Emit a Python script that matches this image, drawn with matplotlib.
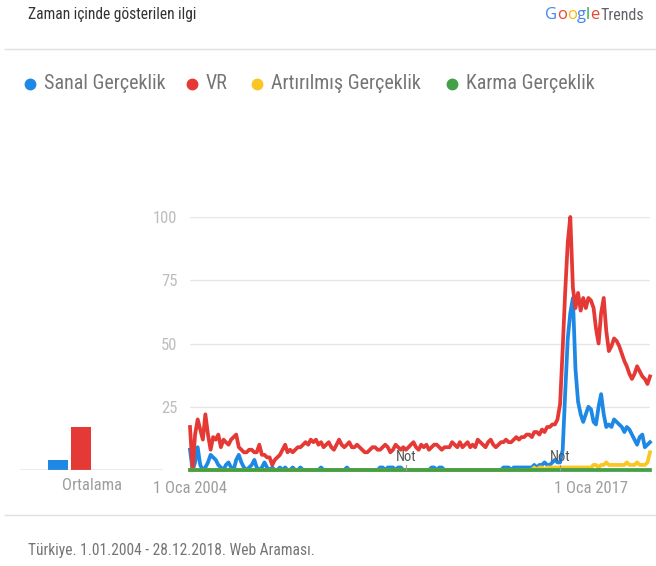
import pandas as pd
import numpy as np
from matplotlib import pyplot as plt

plt.rcParams['font.family'] = ['Roboto Condensed', 'DejaVu Sans']

# monthly interest, Jan 2004 - Dec 2018
months = pd.date_range('2004-01-01', periods=180, freq='MS')

sanal = [8, 0, 3, 9, 2, 0, 1, 3, 6, 5, 4, 2,
         1, 0, 2, 3, 1, 0, 4, 6, 3, 1, 0, 1,
         2, 4, 1, 0, 1, 3, 1, 0, 1, 0, 0, 1,
         0, 1, 0, 0, 1, 0, 0, 1, 0, 0, 0, 0,
         0, 0, 0, 1, 0, 0, 0, 0, 0, 0, 0, 0,
         0, 1, 0, 0, 0, 0, 0, 0, 0, 0, 0, 0,
         0, 0, 1, 1, 0, 1, 1, 1, 0, 1, 1, 0,
         0, 0, 0, 0, 0, 0, 0, 0, 0, 0, 1, 1,
         0, 1, 1, 0, 0, 0, 0, 0, 0, 0, 0, 0,
         0, 0, 0, 0, 0, 0, 0, 0, 0, 0, 0, 0,
         0, 0, 1, 1, 1, 0, 1, 1, 1, 1, 1, 1,
         1, 1, 2, 1, 2, 2, 3, 2, 2, 3, 4, 3,
         3, 8, 30, 52, 62, 68, 40, 27, 22, 19, 22, 25,
         24, 19, 18, 25, 30, 22, 17, 18, 17, 20, 19, 18,
         17, 15, 17, 16, 14, 12, 10, 13, 14, 9, 10, 11]

vr = [17, 0, 14, 20, 16, 12, 22, 14, 8, 13, 12, 14,
      9, 12, 11, 10, 12, 13, 14, 9, 8, 7, 7, 8,
      8, 7, 7, 10, 6, 6, 5, 5, 2, 4, 5, 6,
      8, 10, 7, 8, 7, 8, 9, 9, 10, 11, 10, 12,
      11, 12, 10, 11, 9, 10, 11, 9, 8, 10, 12, 10,
      9, 10, 11, 9, 9, 10, 9, 8, 7, 7, 8, 9,
      9, 8, 8, 9, 10, 9, 7, 8, 10, 9, 8, 9,
      8, 9, 10, 11, 9, 8, 10, 9, 10, 8, 9, 10,
      10, 9, 8, 9, 9, 9, 11, 10, 9, 11, 9, 10,
      11, 9, 10, 9, 12, 11, 10, 9, 11, 12, 10, 9,
      10, 11, 11, 12, 11, 11, 12, 13, 12, 13, 13, 14,
      14, 13, 15, 15, 14, 16, 15, 17, 17, 18, 18, 20,
      26, 48, 70, 90, 100, 72, 64, 70, 63, 68, 64, 68,
      67, 64, 56, 50, 62, 68, 55, 47, 49, 52, 51, 49,
      46, 43, 41, 38, 36, 38, 41, 39, 37, 36, 34, 37]

artirilmis = [0, 0, 0, 0, 0, 0, 0, 0, 0, 0, 0, 0,
              0, 0, 0, 0, 0, 0, 0, 0, 0, 0, 0, 0,
              0, 0, 0, 0, 0, 0, 0, 0, 0, 0, 0, 0,
              0, 0, 0, 0, 0, 0, 0, 0, 0, 0, 0, 0,
              0, 0, 0, 0, 0, 0, 0, 0, 0, 0, 0, 0,
              0, 0, 0, 0, 0, 0, 0, 0, 0, 0, 0, 0,
              0, 0, 0, 0, 0, 0, 0, 0, 0, 0, 0, 0,
              0, 0, 0, 0, 0, 0, 0, 0, 0, 0, 0, 0,
              0, 0, 0, 0, 0, 0, 0, 0, 0, 0, 0, 0,
              0, 0, 0, 0, 0, 0, 0, 0, 0, 0, 0, 0,
              0, 0, 0, 0, 0, 0, 0, 0, 0, 0, 0, 0,
              0, 0, 1, 0, 1, 1, 0, 1, 1, 1, 1, 1,
              1, 1, 1, 1, 1, 1, 1, 1, 1, 1, 1, 1,
              1, 2, 2, 1, 2, 2, 3, 2, 2, 2, 2, 2,
              2, 2, 3, 2, 2, 2, 3, 2, 2, 2, 3, 7]

karma = [0, 0, 0, 0, 0, 0, 0, 0, 0, 0, 0, 0,
         0, 0, 0, 0, 0, 0, 0, 0, 0, 0, 0, 0,
         0, 0, 0, 0, 0, 0, 0, 0, 0, 0, 0, 0,
         0, 0, 0, 0, 0, 0, 0, 0, 0, 0, 0, 0,
         0, 0, 0, 0, 0, 0, 0, 0, 0, 0, 0, 0,
         0, 0, 0, 0, 0, 0, 0, 0, 0, 0, 0, 0,
         0, 0, 0, 0, 0, 0, 0, 0, 0, 0, 0, 0,
         0, 0, 0, 0, 0, 0, 0, 0, 0, 0, 0, 0,
         0, 0, 0, 0, 0, 0, 0, 0, 0, 0, 0, 0,
         0, 0, 0, 0, 0, 0, 0, 0, 0, 0, 0, 0,
         0, 0, 0, 0, 0, 0, 0, 0, 0, 0, 0, 0,
         0, 0, 0, 0, 0, 0, 0, 0, 0, 0, 0, 0,
         0, 0, 0, 0, 0, 0, 0, 0, 0, 0, 0, 0,
         0, 0, 0, 0, 0, 0, 0, 0, 0, 0, 0, 0,
         0, 0, 0, 0, 0, 0, 0, 0, 0, 0, 0, 0]

terms = ['Sanal Gerçeklik', 'VR', 'Artırılmış Gerçeklik', 'Karma Gerçeklik']
colors = ['#1E88E5', '#E53935', '#F9C623', '#43A047']
averages = [4, 17, 0, 0]
note_dates = ['2011-01-01', '2016-01-01']

W, H = 656, 566
fig = plt.figure(figsize=(W / 100, H / 100), dpi=100)

def fx(px):
    return px / W

def fy(py):
    return 1 - py / H

# header
fig.text(fx(28), fy(15), 'Zaman içinde gösterilen ilgi', fontsize=11.2,
         color='#333333', va='center', ha='left')

# google logo, letter by letter
google = [('G', '#4285F4'), ('o', '#EA4335'), ('o', '#FBBC05'),
          ('g', '#4285F4'), ('l', '#34A853'), ('e', '#EA4335')]
rend = fig.canvas.get_renderer()
x0 = fx(545)
for ch, c in google:
    tt = fig.text(x0, fy(15), ch, fontsize=12, color=c, va='center', ha='left',
                  family=['Open Sans'])
    x0 += tt.get_window_extent(renderer=rend).width / W
fig.text(x0 + 1 / W, fy(15), 'Trends', fontsize=11.5, color='#5f6368',
         va='center', ha='left')

fig.add_artist(plt.Line2D([fx(5), 1], [fy(49), fy(49)], color='#e0e0e0', lw=1))
fig.add_artist(plt.Line2D([fx(5), 1], [fy(515), fy(515)], color='#e0e0e0', lw=1))

# legend
for px, term, c in zip([30, 192, 257, 452], terms, colors):
    fig.add_artist(plt.Line2D([fx(px)], [fy(84)], marker='o', ms=7.5,
                              color=c, mec=c))
    fig.text(fx(px + 14), fy(84), term, fontsize=14.4, color='#757575',
             va='center', ha='left')

# averages panel
ax_avg = fig.add_axes([fx(20), fy(470), fx(143), 253 / H])
ax_avg.bar(range(4), averages, width=0.9, color=colors)
ax_avg.set_xlim(-1.65, 4.57)
ax_avg.set_ylim(0, 100)
ax_avg.axis('off')
ax_avg.axhline(0, color='#9e9e9e', lw=1)
fig.text(fx(92), fy(486), 'Ortalama', fontsize=12, color='#9e9e9e',
         ha='center', va='center')

# main panel
ax = fig.add_axes([fx(190), fy(470), fx(460), 253 / H])
for series, c in zip([sanal, vr, artirilmis, karma], colors):
    ax.plot(months, series, color=c, lw=2.7, clip_on=False)
ax.set_xlim(months[0], months[-1])
ax.set_ylim(0, 100)
for v in [25, 50, 75, 100]:
    ax.axhline(v, color='#e6e6e6', lw=1, zorder=0)
for s in ax.spines.values():
    s.set_visible(False)
ax.set_yticks([25, 50, 75, 100])
ax.tick_params(axis='y', length=0, pad=9, labelsize=12, labelcolor='#bdbdbd')
ax.set_xticks([pd.Timestamp('2004-01-01'), pd.Timestamp('2017-01-01')])
ax.set_xticklabels(['1 Oca 2004', '1 Oca 2017'])
ax.tick_params(axis='x', length=0, pad=8, labelsize=12, labelcolor='#9e9e9e')

for d in note_dates:
    d = pd.Timestamp(d)
    ax.plot([d, d], [0, 2], color='#9e9e9e', lw=0.8, clip_on=False)
    ax.text(d, 5, 'Not', fontsize=10.5, color='#555555', ha='center',
            va='center')

fig.text(fx(28), fy(550), 'Türkiye. 1.01.2004 - 28.12.2018. Web Araması.',
         fontsize=11.2, color='#757575', va='center', ha='left')

fig.savefig('out.png', dpi=100, facecolor='white')
